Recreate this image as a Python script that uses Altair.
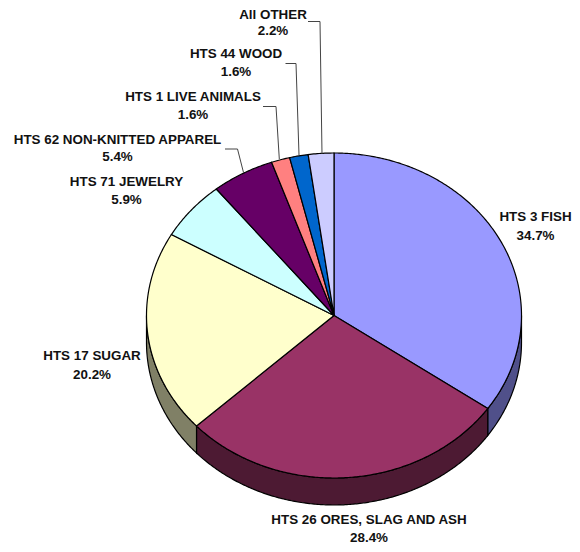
import math
import altair as alt

names = ["HTS 3 FISH", "HTS 26 ORES, SLAG AND ASH", "HTS 17 SUGAR", "HTS 71 JEWELRY",
         "HTS 62 NON-KNITTED APPAREL", "HTS 1 LIVE ANIMALS", "HTS 44 WOOD", "All OTHER"]
shares = [34.7, 28.4, 20.2, 5.9, 5.4, 1.6, 1.6, 2.2]
top_colors = ["#9999FF", "#993366", "#FFFFCC", "#CCFFFF", "#660066", "#FF8080", "#0066CC", "#CCCCFF"]
side_colors = ["#50508A", "#4D1A33", "#808066", "#668080", "#330033", "#804040", "#003366", "#666680"]

# layout (chart pixels = page pixels minus the 8px margin)
W, H = 564, 536
CX, CY = 326.0, 307.5
RX, RY = 187.5, 162.5
DEPTH = 27.0

label_x = [527.5, 361, 84, 118.5, 109.5, 185, 228, 265]
label_y1 = [209, 511.5, 348, 174, 131.5, 88.5, 46, 6.5]
label_y2 = [227.5, 529.5, 367, 192, 149, 107, 64, 23]

leaders = [
    [(217, 141), (229.5, 141), (235.5, 164.5)],
    [(255, 98.5), (268, 98.5), (271.3, 151)],
    [(277.5, 55.5), (288, 55.5), (291, 147)],
    [(300, 13.5), (312, 13.5), (314, 146)],
]


def pt(deg, dy=0.0):
    a = math.radians(deg)
    return [RX * math.sin(a), -RY * math.cos(a) + dy]


def arc(a0, a1, dy=0.0):
    n = max(2, int(abs(a1 - a0)) * 2 + 1)
    return [pt(a0 + (a1 - a0) * i / (n - 1), dy) for i in range(n)]


tops, sides = [], []
start = 0.0
for share, c_top, c_side in zip(shares, top_colors, side_colors):
    end = start + share * 3.6
    ring = [[0.0, 0.0]] + arc(start, end) + [[0.0, 0.0]]
    tops.append({"type": "Feature", "properties": {"fill": c_top},
                 "geometry": {"type": "Polygon", "coordinates": [ring]}})
    lo, hi = max(start, 90.0), min(end, 270.0)
    if lo < hi:
        ring = arc(lo, hi) + arc(hi, lo, DEPTH)
        ring.append(ring[0])
        sides.append({"type": "Feature", "properties": {"fill": c_side},
                      "geometry": {"type": "Polygon", "coordinates": [ring]}})
    start = end

lines = [{"type": "Feature", "properties": {},
          "geometry": {"type": "LineString",
                       "coordinates": [[x - CX, y - CY] for x, y in seg]}} for seg in leaders]

proj = dict(type="identity", scale=1, translate=[CX, CY])

side_layer = alt.Chart(alt.Data(values=sides)).mark_geoshape(stroke="#000000", strokeWidth=1.2).encode(
    color=alt.Color("properties.fill:N", scale=None)).project(**proj)
top_layer = alt.Chart(alt.Data(values=tops)).mark_geoshape(stroke="#000000", strokeWidth=1.2).encode(
    color=alt.Color("properties.fill:N", scale=None)).project(**proj)
line_layer = alt.Chart(alt.Data(values=lines)).mark_geoshape(
    filled=False, stroke="#444444", strokeWidth=1).project(**proj)

rows = []
for n, s, x, y1, y2 in zip(names, shares, label_x, label_y1, label_y2):
    rows.append({"t": n, "x": x, "y": y1})
    rows.append({"t": f"{s:.1f}%", "x": x, "y": y2})

text_layer = alt.Chart(alt.Data(values=rows)).mark_text(
    font="Liberation Sans", fontSize=13.4, fontWeight="bold", color="#111111",
    baseline="middle", align="center").encode(
    x=alt.X("x:Q", scale=None, axis=None),
    y=alt.Y("y:Q", scale=None, axis=None),
    text="t:N")

chart = alt.layer(side_layer, top_layer, line_layer, text_layer).properties(
    width=W, height=H, padding=0, autosize=alt.AutoSizeParams(type="none"),
).configure_view(stroke=None)

chart.save("out.html", embed_options={"renderer": "svg", "actions": False})
